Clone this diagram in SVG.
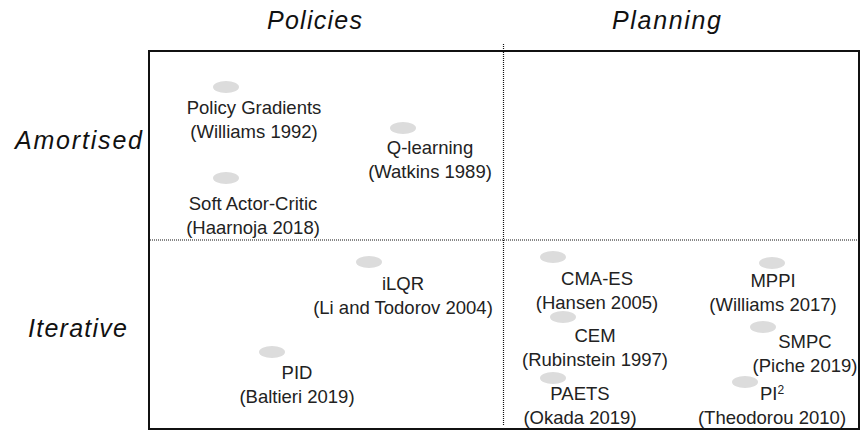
<svg xmlns="http://www.w3.org/2000/svg" width="861" height="432" viewBox="0 0 861 432">
<style>
.hdr{font-family:"Liberation Sans",Arial,sans-serif;font-style:italic;font-size:25px;fill:#111}
.lbl{font-family:"Liberation Sans",Arial,sans-serif;font-size:18.5px;fill:#222;text-anchor:middle}
.dot{fill:#dcdcdc}
.div{stroke:#111;stroke-width:1.2;stroke-dasharray:1 1;fill:none}
</style>
<rect width="861" height="432" fill="#fff"/>
<g id="headers">
<text class="hdr" x="267" y="29" textLength="95" lengthAdjust="spacing">Policies</text>
<text class="hdr" x="612" y="29" textLength="109" lengthAdjust="spacing">Planning</text>
<text class="hdr" x="15" y="149" textLength="127" lengthAdjust="spacing">Amortised</text>
<text class="hdr" x="28" y="337" textLength="99" lengthAdjust="spacing">Iterative</text>
</g>
<g id="frame">
<rect x="149" y="51" width="710" height="378" fill="none" stroke="#111" stroke-width="2"/>
</g>
<g id="connectors">
<line class="div" x1="503.5" y1="44" x2="503.5" y2="425"/>
<line class="div" x1="150" y1="240" x2="858" y2="240"/>
</g>
<g id="policy-gradients">
<ellipse class="dot" cx="226" cy="87" rx="13" ry="6"/>
<text class="lbl" x="254" y="114">Policy Gradients</text>
<text class="lbl" x="254" y="138">(Williams 1992)</text>
</g>
<g id="q-learning">
<ellipse class="dot" cx="403" cy="128" rx="13" ry="6"/>
<text class="lbl" x="430" y="154">Q-learning</text>
<text class="lbl" x="430" y="178">(Watkins 1989)</text>
</g>
<g id="soft-actor-critic">
<ellipse class="dot" cx="226" cy="178" rx="13" ry="6"/>
<text class="lbl" x="253" y="210">Soft Actor-Critic</text>
<text class="lbl" x="253" y="234">(Haarnoja 2018)</text>
</g>
<g id="ilqr">
<ellipse class="dot" cx="369" cy="262" rx="13" ry="6"/>
<text class="lbl" x="403" y="290">iLQR</text>
<text class="lbl" x="403" y="314">(Li and Todorov 2004)</text>
</g>
<g id="pid">
<ellipse class="dot" cx="272" cy="352" rx="13" ry="6"/>
<text class="lbl" x="297" y="379">PID</text>
<text class="lbl" x="297" y="403">(Baltieri 2019)</text>
</g>
<g id="cma-es">
<ellipse class="dot" cx="553" cy="257" rx="13" ry="6"/>
<text class="lbl" x="597" y="285">CMA-ES</text>
<text class="lbl" x="597" y="309">(Hansen 2005)</text>
</g>
<g id="cem">
<ellipse class="dot" cx="563" cy="317" rx="13" ry="6"/>
<text class="lbl" x="595" y="342">CEM</text>
<text class="lbl" x="595" y="366">(Rubinstein 1997)</text>
</g>
<g id="paets">
<ellipse class="dot" cx="553" cy="378" rx="13" ry="6"/>
<text class="lbl" x="580" y="400">PAETS</text>
<text class="lbl" x="580" y="424">(Okada 2019)</text>
</g>
<g id="mppi">
<ellipse class="dot" cx="772" cy="263" rx="13" ry="6"/>
<text class="lbl" x="773" y="287">MPPI</text>
<text class="lbl" x="773" y="311">(Williams 2017)</text>
</g>
<g id="smpc">
<ellipse class="dot" cx="763" cy="327" rx="13" ry="6"/>
<text class="lbl" x="805" y="348">SMPC</text>
<text class="lbl" x="805" y="372">(Piche 2019)</text>
</g>
<g id="pi2">
<ellipse class="dot" cx="745" cy="382" rx="13" ry="6"/>
<text class="lbl" x="772" y="400">PI<tspan font-size="12" dy="-6">2</tspan></text>
<text class="lbl" x="772" y="424">(Theodorou 2010)</text>
</g>
</svg>
